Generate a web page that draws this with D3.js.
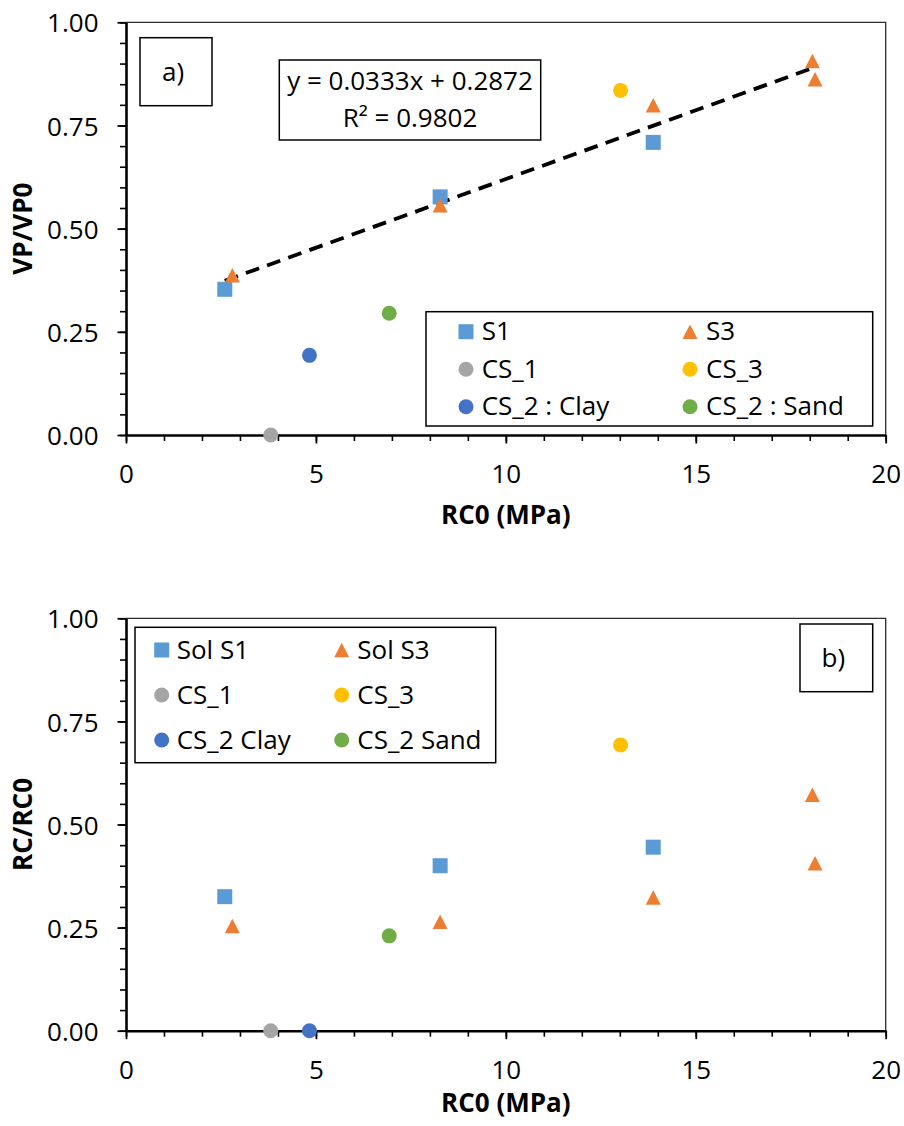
<!DOCTYPE html>
<html>
<head>
<meta charset="utf-8">
<script src="https://cdn.jsdelivr.net/npm/d3@7"></script>
<style>
  html, body { margin: 0; padding: 0; background: #fff; }
  svg text { font-family: "Open Sans", "Noto Sans", sans-serif; fill: #000; }
</style>
</head>
<body>
<div id="chart"></div>
<script>
// ---------- data ----------
const seriesNamesA = ["S1", "S3", "CS_1", "CS_3", "CS_2 : Clay", "CS_2 : Sand"];
const seriesNamesB = ["Sol S1", "Sol S3", "CS_1", "CS_3", "CS_2 Clay", "CS_2 Sand"];
const seriesShapes = ["square", "triangle", "circle", "circle", "circle", "circle"];
const seriesColors = ["#5B9BD5", "#ED7D31", "#A5A5A5", "#FFC000", "#4472C4", "#70AD47"];

const rc0S1 = [2.60, 8.27, 13.88];
const vpS1  = [0.353, 0.577, 0.709];
const rcS1  = [0.325, 0.400, 0.445];

const rc0S3 = [2.80, 8.27, 13.88, 18.07, 18.14];
const vpS3  = [0.387, 0.557, 0.799, 0.906, 0.862];
const rcS3  = [0.254, 0.264, 0.323, 0.572, 0.406];

const rc0CS1 = [3.81];  const vpCS1 = [0.000]; const rcCS1 = [0.000];
const rc0CS3 = [13.02]; const vpCS3 = [0.835]; const rcCS3 = [0.693];
const rc0Clay = [4.83]; const vpClay = [0.193]; const rcClay = [0.000];
const rc0Sand = [6.93]; const vpSand = [0.295]; const rcSand = [0.230];

const trendSlope = 0.0333;
const trendIntercept = 0.2872;
const trendLabel1 = "y = 0.0333x + 0.2872";
const trendLabel2 = "R² = 0.9802";

const xTicks = [0, 5, 10, 15, 20];
const yTicks = [0, 0.25, 0.5, 0.75, 1.0];
const xTitle = "RC0 (MPa)";
const yTitleA = "VP/VP0";
const yTitleB = "RC/RC0";

// ---------- drawing ----------
const W = 904, H = 1126, FS = 26;
const svg = d3.select("#chart").append("svg").attr("width", W).attr("height", H)
  .style("background", "#fff");

function zip(xs, ys) { return xs.map((x, i) => ({ x: x, y: ys[i] })); }

function drawMarker(g, shape, color, cx, cy) {
  const s = 15;
  if (shape === "square") {
    g.append("rect").attr("x", cx - s / 2).attr("y", cy - s / 2)
      .attr("width", s).attr("height", s).attr("fill", color);
  } else if (shape === "circle") {
    g.append("circle").attr("cx", cx).attr("cy", cy).attr("r", 7.5).attr("fill", color);
  } else {
    const h = 14.5;
    g.append("path")
      .attr("d", `M${cx},${cy - h / 2} L${cx + s / 2},${cy + h / 2} L${cx - s / 2},${cy + h / 2} Z`)
      .attr("fill", color);
  }
}

function drawPanel(cfg) {
  const g = svg.append("g");
  const x = d3.scaleLinear().domain([0, 20]).range([cfg.left, cfg.right]);
  const y = d3.scaleLinear().domain([0, 1]).range([cfg.bottom, cfg.top]);

  // frame (top & right)
  g.append("path")
    .attr("d", `M${cfg.left},${cfg.top} H${cfg.right} V${cfg.bottom}`)
    .attr("fill", "none").attr("stroke", "#2b2b2b").attr("stroke-width", 1.3);

  // minor ticks
  const yMinor = g.append("g").attr("transform", `translate(${cfg.left},0)`)
    .call(d3.axisLeft(y).tickValues(d3.range(0, 1.0001, 0.05)).tickSize(6).tickSizeOuter(0).tickFormat(""));
  const xMinor = g.append("g").attr("transform", `translate(0,${cfg.bottom})`)
    .call(d3.axisBottom(x).tickValues(d3.range(0, 20.001, 1)).tickSize(6).tickSizeOuter(0).tickFormat(""));
  [yMinor, xMinor].forEach(a => {
    a.select(".domain").remove();
    a.selectAll("line").attr("stroke", "#000").attr("stroke-width", 1.6);
  });

  // major axes
  const yAx = g.append("g").attr("transform", `translate(${cfg.left},0)`)
    .call(d3.axisLeft(y).tickValues(yTicks).tickSize(8.5).tickSizeOuter(0)
      .tickPadding(19).tickFormat(d3.format(".2f")));
  const xAx = g.append("g").attr("transform", `translate(0,${cfg.bottom})`)
    .call(d3.axisBottom(x).tickValues(xTicks).tickSize(8.5).tickSizeOuter(0)
      .tickPadding(21.5).tickFormat(d3.format("d")));
  [yAx, xAx].forEach(a => {
    a.select(".domain").attr("stroke", "#000").attr("stroke-width", 2.6);
    a.selectAll("line").attr("stroke", "#000").attr("stroke-width", 1.8);
    a.selectAll("text").style("font-family", '"Open Sans", sans-serif')
      .style("font-size", FS + "px").attr("fill", "#000");
  });
  yAx.selectAll("text").attr("dy", "0.37em");

  // axis titles
  g.append("text").attr("x", (cfg.left + cfg.right) / 2).attr("y", cfg.bottom + cfg.xTitleOffset)
    .attr("text-anchor", "middle").style("font-size", FS + "px").style("font-weight", "bold")
    .text(xTitle);
  g.append("text")
    .attr("transform", `translate(${cfg.left - 94},${(cfg.top + cfg.bottom) / 2}) rotate(-90)`)
    .attr("text-anchor", "middle").style("font-size", FS + "px").style("font-weight", "bold")
    .text(cfg.yTitle);

  // trendline
  if (cfg.trend) {
    const allX = rc0S1.concat(rc0S3);
    const x0 = d3.min(allX), x1 = d3.max(allX);
    const line = d3.line().x(d => x(d[0])).y(d => y(d[1]));
    g.append("path")
      .datum([[x0, trendSlope * x0 + trendIntercept], [x1, trendSlope * x1 + trendIntercept]])
      .attr("d", line).attr("fill", "none").attr("stroke", "#000")
      .attr("stroke-width", 3.8).attr("stroke-dasharray", "14,8.5");
  }

  // points
  const pts = g.append("g");
  cfg.series.forEach((s, i) => {
    s.forEach(d => drawMarker(pts, seriesShapes[i], seriesColors[i], x(d.x), y(d.y)));
  });

  // legend
  const L = cfg.legend;
  g.append("rect").attr("x", L.x0).attr("y", L.y0).attr("width", L.x1 - L.x0).attr("height", L.y1 - L.y0)
    .attr("fill", "#fff").attr("stroke", "#000").attr("stroke-width", 1.5);
  cfg.names.forEach((name, i) => {
    const col = i % 2, row = Math.floor(i / 2);
    const my = L.rows[row];
    drawMarker(g, seriesShapes[i], seriesColors[i], L.mx[col], my);
    g.append("text").attr("x", L.tx[col]).attr("y", my + 8.5)
      .style("font-size", FS + "px").text(name);
  });

  // panel label
  const P = cfg.panel;
  g.append("rect").attr("x", P.x0).attr("y", P.y0).attr("width", P.x1 - P.x0).attr("height", P.y1 - P.y0)
    .attr("fill", "#fff").attr("stroke", "#000").attr("stroke-width", 1.5);
  g.append("text").attr("x", (P.x0 + P.x1) / 2 - 3).attr("y", (P.y0 + P.y1) / 2 + 9)
    .attr("text-anchor", "middle").style("font-size", FS + "px").text(P.label);

  return { x, y, g };
}

// Panel a
const pa = drawPanel({
  left: 126, right: 885.7, top: 22.3, bottom: 435,
  yTitle: yTitleA, trend: true, xTitleOffset: 89,
  names: seriesNamesA,
  series: [zip(rc0S1, vpS1), zip(rc0S3, vpS3), zip(rc0CS1, vpCS1), zip(rc0CS3, vpCS3), zip(rc0Clay, vpClay), zip(rc0Sand, vpSand)],
  legend: { x0: 426, y0: 311.7, x1: 872.7, y1: 426, rows: [331.7, 369.3, 406.7], mx: [466, 690], tx: [481.7, 706] },
  panel: { x0: 140, y0: 37.7, x1: 212, y1: 105.7, label: "a)" }
});

// trend equation box
const eq = pa.g.append("g");
eq.append("rect").attr("x", 279.3).attr("y", 60).attr("width", 540.7 - 279.3).attr("height", 80)
  .attr("fill", "#fff").attr("stroke", "#000").attr("stroke-width", 1.5);
eq.append("text").attr("x", 410).attr("y", 90).attr("text-anchor", "middle")
  .style("font-size", FS + "px").text(trendLabel1);
eq.append("text").attr("x", 410).attr("y", 126.7).attr("text-anchor", "middle")
  .style("font-size", FS + "px").text(trendLabel2);

// Panel b
drawPanel({
  left: 126, right: 885.7, top: 618.3, bottom: 1030.7,
  yTitle: yTitleB, trend: false, xTitleOffset: 81,
  names: seriesNamesB,
  series: [zip(rc0S1, rcS1), zip(rc0S3, rcS3), zip(rc0CS1, rcCS1), zip(rc0CS3, rcCS3), zip(rc0Clay, rcClay), zip(rc0Sand, rcSand)],
  legend: { x0: 135, y0: 627.3, x1: 495.7, y1: 762.7, rows: [650, 695, 740], mx: [161.7, 341.7], tx: [176.7, 357.3] },
  panel: { x0: 800, y0: 624, x1: 872.7, y1: 691.7, label: "b)" }
});
</script>
</body>
</html>
